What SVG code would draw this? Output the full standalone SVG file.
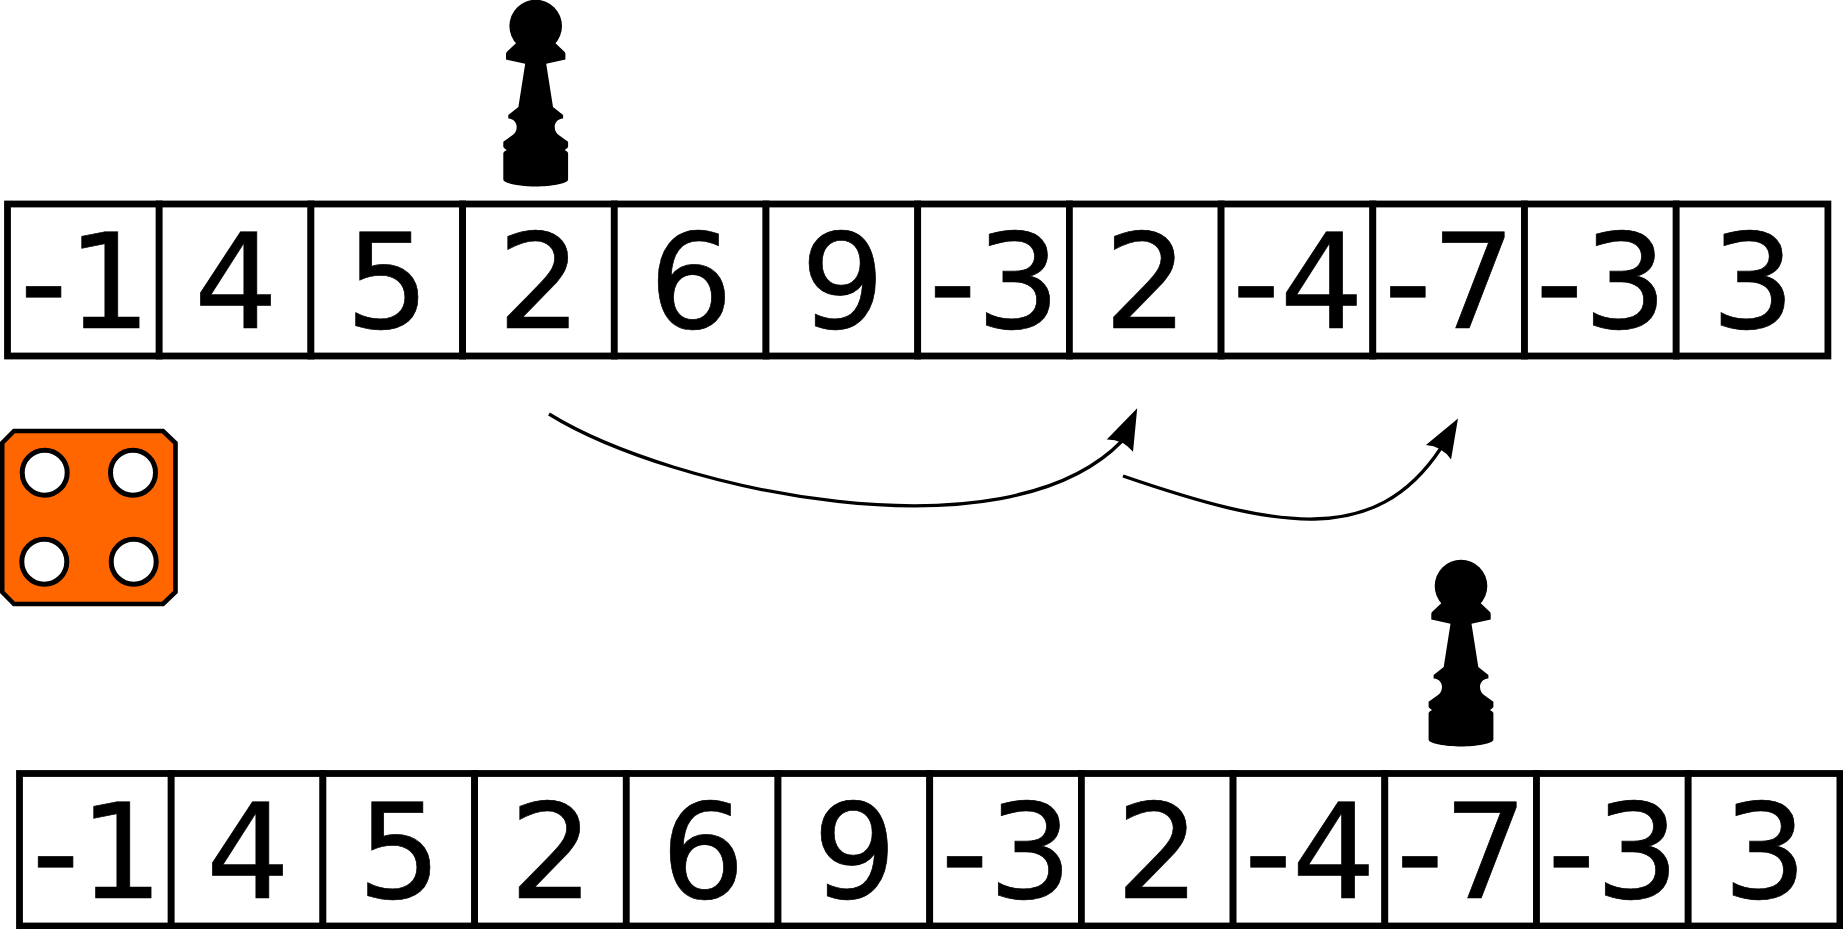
<svg xmlns="http://www.w3.org/2000/svg" width="1843" height="929" viewBox="0 0 1843 929">
<style>
.cell{fill:#fff;stroke:#000;stroke-width:6.8}
.num{font-family:"DejaVu Sans",sans-serif;font-size:132px;fill:#000;stroke:#000;stroke-width:0.7;text-anchor:middle;text-rendering:geometricPrecision}
.pip{fill:#fff;stroke:#000;stroke-width:5}
.link{fill:none;stroke:#000;stroke-width:3.3}
</style>
<defs>
<g id="pawn">
<circle cx="0" cy="26" r="26.3"/>
<path d="M-19.5,43 L-29,52 Q-29.7,53 -29.7,54 V59.5 L-10.5,63.8 L-17.3,107 L-27.4,115 V118.5 C-21.5,119 -19,123 -19,127 C-19,131 -21,133.5 -23,135 L-32.4,141.7 V147 Q-32,148 -29,150 Q-32,151.5 -32.4,153 V179.5 C-32.4,183.5 -15,186.5 0,186.5 C15,186.5 32.4,183.5 32.4,179.5 V153 Q32,151.5 29,150 Q32,148 32.4,147 V141.7 L23,135 C21,133.5 19,131 19,127 C19,123 21.5,119 27.4,118.5 V115 L17.3,107 L10.5,63.8 L29.7,59.5 V54 Q29.7,53 29,52 L19.5,43 Z"/>
</g>
<marker id="headA" markerUnits="userSpaceOnUse" viewBox="-10 -20 50 40" markerWidth="50" markerHeight="40" refX="0" refY="0" orient="-65"><path d="M36,0 L-5,-14.5 Q2,0 -5,14.5 Z"/></marker>
<marker id="headB" markerUnits="userSpaceOnUse" viewBox="-10 -20 50 40" markerWidth="50" markerHeight="40" refX="0" refY="0" orient="-60"><path d="M34,0 L-5,-14.5 Q2,0 -5,14.5 Z"/></marker>
</defs>
<rect width="1843" height="929" fill="#fff"/>
<g id="top-row">
<g id="top-0"><rect class="cell" x="7.5" y="204" width="151.7" height="152"/><text class="num" x="85.5" y="328">-1</text></g>
<g id="top-1"><rect class="cell" x="159.2" y="204" width="151.7" height="152"/><text class="num" x="236" y="328">4</text></g>
<g id="top-2"><rect class="cell" x="310.9" y="204" width="151.7" height="152"/><text class="num" x="387.5" y="328">5</text></g>
<g id="top-3"><rect class="cell" x="462.6" y="204" width="151.7" height="152"/><text class="num" x="539.5" y="328">2</text></g>
<g id="top-4"><rect class="cell" x="614.3" y="204" width="151.7" height="152"/><text class="num" x="691" y="328">6</text></g>
<g id="top-5"><rect class="cell" x="766" y="204" width="151.7" height="152"/><text class="num" x="842.7" y="328">9</text></g>
<g id="top-6"><rect class="cell" x="917.7" y="204" width="151.7" height="152"/><text class="num" x="994.5" y="328">-3</text></g>
<g id="top-7"><rect class="cell" x="1069.4" y="204" width="151.7" height="152"/><text class="num" x="1146" y="328">2</text></g>
<g id="top-8"><rect class="cell" x="1221.1" y="204" width="151.7" height="152"/><text class="num" x="1298" y="328">-4</text></g>
<g id="top-9"><rect class="cell" x="1372.8" y="204" width="151.7" height="152"/><text class="num" x="1449.7" y="328">-7</text></g>
<g id="top-10"><rect class="cell" x="1524.5" y="204" width="151.7" height="152"/><text class="num" x="1601.4" y="328">-3</text></g>
<g id="top-11"><rect class="cell" x="1676.2" y="204" width="151.7" height="152"/><text class="num" x="1753" y="328">3</text></g>
</g>
<g id="bottom-row">
<g id="bot-0"><rect class="cell" x="19.5" y="773.5" width="151.7" height="152.5"/><text class="num" x="97.5" y="898">-1</text></g>
<g id="bot-1"><rect class="cell" x="171.2" y="773.5" width="151.7" height="152.5"/><text class="num" x="248" y="898">4</text></g>
<g id="bot-2"><rect class="cell" x="322.9" y="773.5" width="151.7" height="152.5"/><text class="num" x="399.5" y="898">5</text></g>
<g id="bot-3"><rect class="cell" x="474.6" y="773.5" width="151.7" height="152.5"/><text class="num" x="551.5" y="898">2</text></g>
<g id="bot-4"><rect class="cell" x="626.3" y="773.5" width="151.7" height="152.5"/><text class="num" x="703" y="898">6</text></g>
<g id="bot-5"><rect class="cell" x="778" y="773.5" width="151.7" height="152.5"/><text class="num" x="854.7" y="898">9</text></g>
<g id="bot-6"><rect class="cell" x="929.7" y="773.5" width="151.7" height="152.5"/><text class="num" x="1006.5" y="898">-3</text></g>
<g id="bot-7"><rect class="cell" x="1081.4" y="773.5" width="151.7" height="152.5"/><text class="num" x="1158" y="898">2</text></g>
<g id="bot-8"><rect class="cell" x="1233.1" y="773.5" width="151.7" height="152.5"/><text class="num" x="1310" y="898">-4</text></g>
<g id="bot-9"><rect class="cell" x="1384.8" y="773.5" width="151.7" height="152.5"/><text class="num" x="1461.7" y="898">-7</text></g>
<g id="bot-10"><rect class="cell" x="1536.5" y="773.5" width="151.7" height="152.5"/><text class="num" x="1613.4" y="898">-3</text></g>
<g id="bot-11"><rect class="cell" x="1688.2" y="773.5" width="151.7" height="152.5"/><text class="num" x="1765" y="898">3</text></g>
</g>
<g id="pawn-top"><use href="#pawn" transform="translate(535.7,0)"/></g>
<g id="pawn-bottom"><use href="#pawn" transform="translate(1461,560)"/></g>
<g id="die">
<path d="M14,431 H163 L175.5,443 V592 L163,604 H14 L2.2,592 V443 Z" fill="#ff6600" stroke="#000" stroke-width="4.6"/>
<path class="pip" d="M44.7,450.2 C57,450.2 67.2,460.3 67.2,472.7 C67.2,485 57,495.2 44.7,495.2 C39.5,495.2 35.5,493.8 32,491.3 C26,487 22.2,480 22.2,472.7 C22.2,460.3 32.3,450.2 44.7,450.2 Z"/>
<circle class="pip" cx="133" cy="472.7" r="22.5"/>
<circle class="pip" cx="44.3" cy="561.7" r="22.5"/>
<circle class="pip" cx="133.7" cy="561.7" r="22.5"/>
</g>
<g id="connectors">
<path class="link" d="M549,414 C672,490 1005,562 1122,441" marker-end="url(#headA)"/>
<path class="link" d="M1123,476 C1275,528 1375,548 1441,448" marker-end="url(#headB)"/>
</g>
</svg>
